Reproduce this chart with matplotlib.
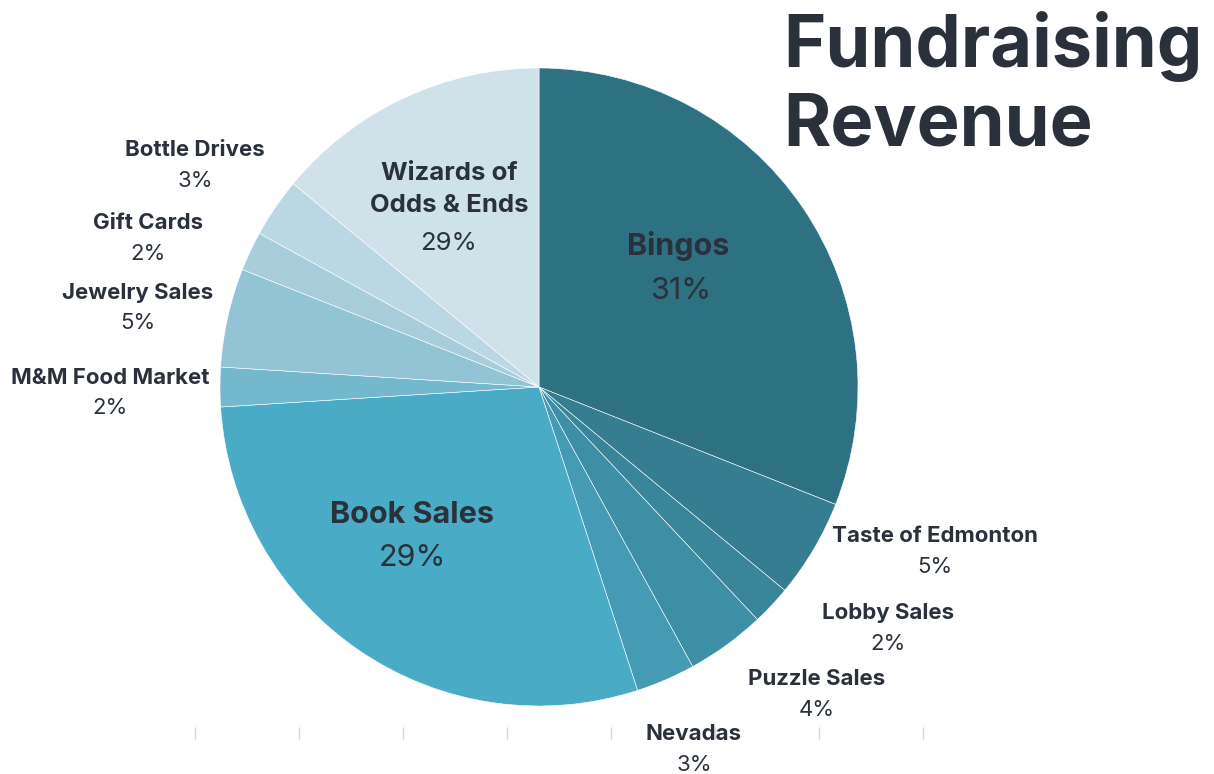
"""Fundraising revenue pie chart."""

import matplotlib

matplotlib.use("Agg")
import matplotlib.pyplot as plt

# slice sizes as drawn (share of the pie) and the percentage labels printed on the chart
categories = [
    "Bingos",
    "Taste of Edmonton",
    "Lobby Sales",
    "Puzzle Sales",
    "Nevadas",
    "Book Sales",
    "M&M Food Market",
    "Jewelry Sales",
    "Gift Cards",
    "Bottle Drives",
    "Wizards of\nOdds & Ends",
]
shares = [31, 5, 2, 4, 3, 29, 2, 5, 2, 3, 14]
pct_labels = ["31%", "5%", "2%", "4%", "3%", "29%", "2%", "5%", "2%", "3%", "29%"]

colors = [
    "#2E7183", "#357E92", "#39869B", "#3D8FA6", "#449BB3", "#4AABC6",
    "#74B8CE", "#93C4D5", "#A8CEDC", "#BAD8E3", "#CFE2E9",
]

# label anchors in pixels (name centre, percent centre)
label_px = [
    ((678, 246), (681, 291)),
    ((935, 536), (935, 567)),
    ((888, 613), (888, 644)),
    ((817, 679), (817, 710)),
    ((694, 734), (694, 765)),
    ((412, 515), (412, 558)),
    ((110, 378), (110, 408)),
    ((138, 293), (138, 323)),
    ((148, 223), (148, 254)),
    ((195, 150), (195, 181)),
    ((449, 190), (449, 243)),
]
big = {"Bingos", "Book Sales"}

W, H = 1214, 774
CX, CY, R = 539, 387, 319
TEXT = "#2A313B"
FONT = ["Inter", "DejaVu Sans"]


def to_data(px, py):
    return (px - CX) / R, (CY - py) / R


fig = plt.figure(figsize=(W / 100, H / 100), dpi=100)
ax = fig.add_axes([0, 0, 1, 1])
ax.pie(
    shares,
    colors=colors,
    startangle=90,
    counterclock=False,
    radius=1.0,
    wedgeprops=dict(edgecolor="white", linewidth=0.4),
)
ax.set_xlim(-CX / R, (W - CX) / R)
ax.set_ylim(-(H - CY) / R, CY / R)
ax.set_aspect("equal")
ax.axis("off")

for name, pct, (p_name, p_pct) in zip(categories, pct_labels, label_px):
    size = 22 if name in big else 16
    if "\n" in name:
        size = 18.5
    x, y = to_data(*p_name)
    ax.text(x, y, name, ha="center", va="center", fontsize=size, fontweight="bold",
            color=TEXT, family=FONT, linespacing=1.5)
    x, y = to_data(*p_pct)
    ax.text(x, y, pct, ha="center", va="center", fontsize=size, color=TEXT, family=FONT)

# faint leftover category ticks along the bottom
tick_ax = fig.add_axes([195 / W, 1 - 733 / H, (923 - 195) / W, 0.001])
tick_ax.set_xlim(0, 7)
tick_ax.set_xticks(range(8))
tick_ax.set_yticks([])
tick_ax.tick_params(axis="x", length=8, direction="inout", color="#D8D8D8", width=1,
                    labelbottom=False)
for side in tick_ax.spines.values():
    side.set_visible(False)
tick_ax.patch.set_alpha(0)
tick_ax.set_zorder(-1)

fig.text(783 / W, 1 - 67 / H, "Fundraising", ha="left", va="baseline", fontsize=52,
         fontweight="bold", color=TEXT, family=FONT)
fig.text(783 / W, 1 - 145 / H, "Revenue", ha="left", va="baseline", fontsize=52,
         fontweight="bold", color=TEXT, family=FONT)

fig.savefig("out.png", dpi=100)
